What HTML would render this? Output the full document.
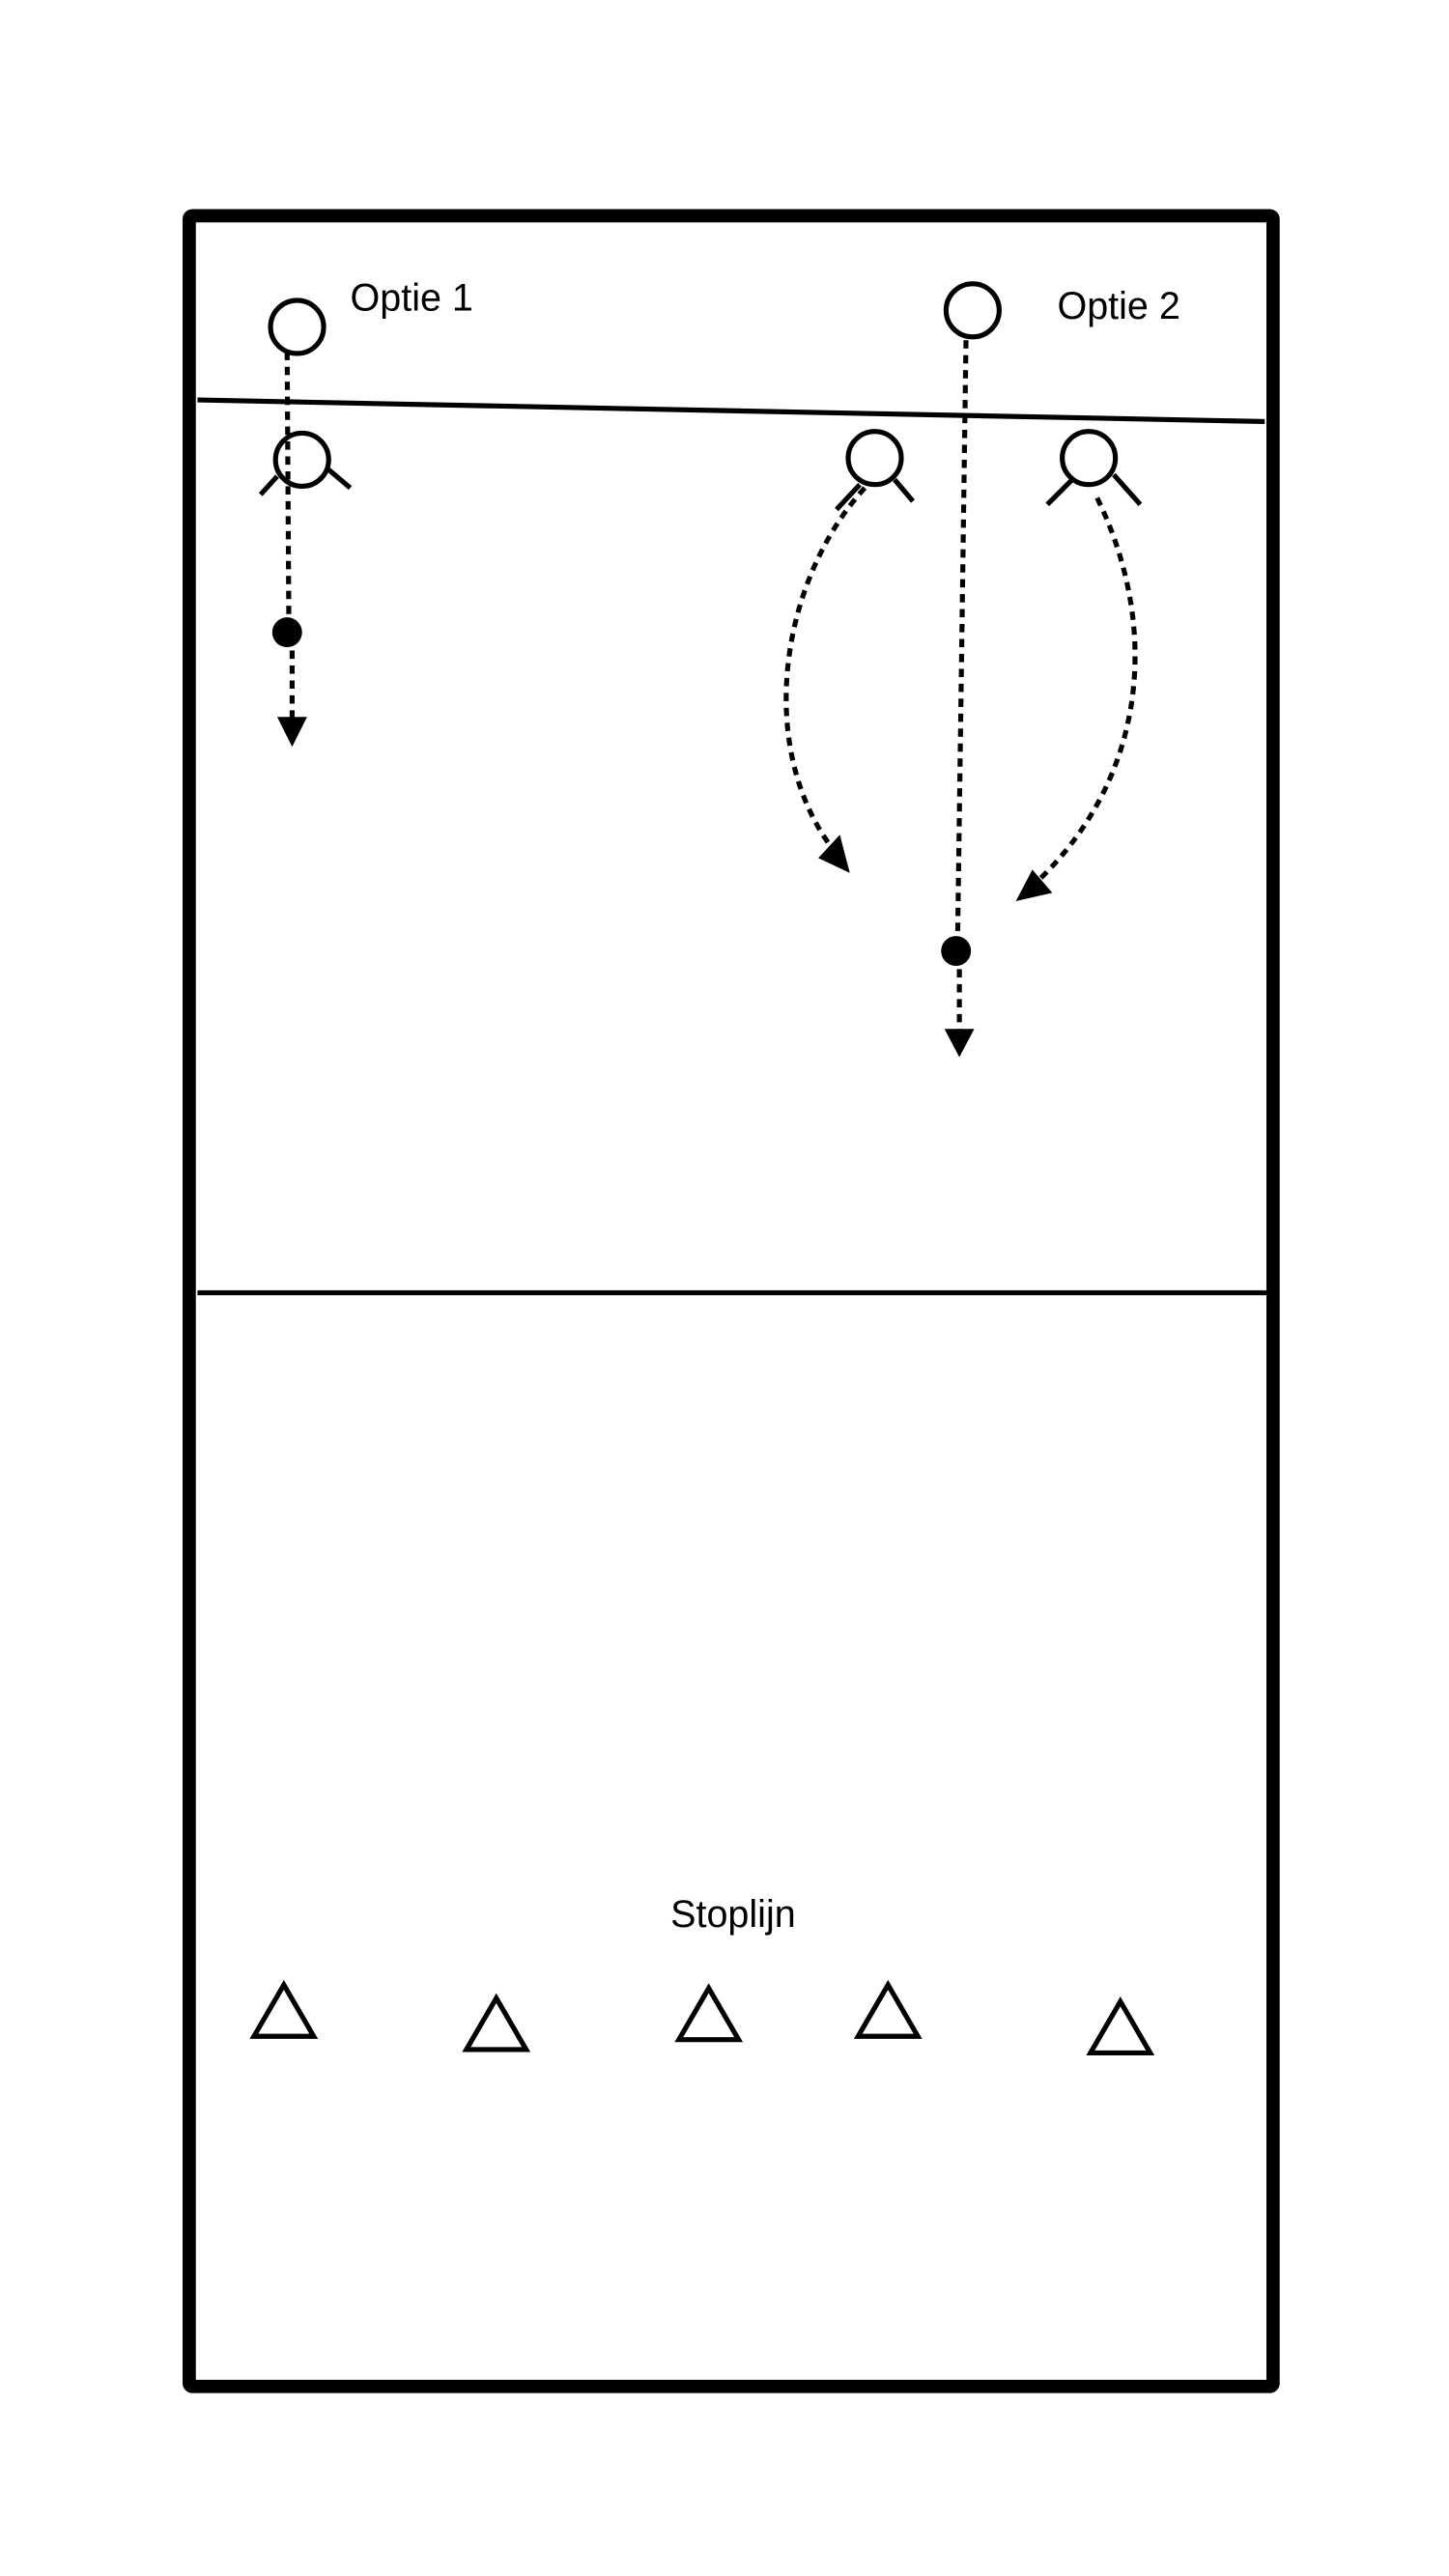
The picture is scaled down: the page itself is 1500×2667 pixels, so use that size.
<!DOCTYPE html>
<html><head><meta charset="utf-8"><style>html,body{margin:0;padding:0;background:#fff}svg{display:block}</style></head>
<body>
<svg width="1500" height="2667" viewBox="0 0 873 1552.2" xmlns="http://www.w3.org/2000/svg">
<rect x="0" y="0" width="873" height="1553" fill="#fff"/>
<rect x="114" y="130" width="653" height="1308" fill="none" stroke="#000" stroke-width="8" rx="2"/>
<line x1="119" y1="241" x2="762" y2="254" stroke="#000" stroke-width="3"/>
<line x1="119" y1="779" x2="763" y2="779" stroke="#000" stroke-width="3"/>
<g font-family="Liberation Sans, sans-serif" font-size="23" fill="#000">
<text x="211" y="187">Optie 1</text>
<text x="637" y="192">Optie 2</text>
<text x="404" y="1161">Stoplijn</text>
</g>
<g fill="none" stroke="#000" stroke-width="3">
<circle cx="179" cy="197" r="16" fill="#fff"/>
<circle cx="586" cy="187" r="16" fill="#fff"/>
<circle cx="182" cy="277" r="16"/>
<line x1="167" y1="287" x2="157" y2="298"/><line x1="198" y1="283" x2="211" y2="294"/>
<circle cx="527" cy="276" r="16"/>
<line x1="518" y1="292" x2="504" y2="307"/><line x1="539" y1="289" x2="550" y2="302"/>
<circle cx="656" cy="276" r="16"/>
<line x1="647" y1="288" x2="631" y2="304"/><line x1="671" y1="286" x2="687" y2="304"/>
</g>
<g fill="none" stroke="#000" stroke-width="3" stroke-dasharray="5,4">
<line x1="173" y1="212" x2="174" y2="372"/>
<line x1="176" y1="392" x2="176" y2="436"/>
<line x1="582" y1="205" x2="577" y2="563"/>
<line x1="578" y1="584" x2="578" y2="622"/>
<path d="M521 294 C470 350 455 450 502 512"/>
<path d="M661 300 C700 380 690 470 624 532"/>
</g>
<g fill="#000">
<circle cx="173" cy="381" r="9"/>
<circle cx="576" cy="573" r="9"/>
<polygon points="167,432 185,432 176,450"/>
<polygon points="569,620 587,620 578,637"/>
<polygon points="493,517 506,503 512,526"/>
<polygon points="622,524 634,538 612,543"/>
</g>
<g fill="none" stroke="#000" stroke-width="3">
<polygon points="171,1196 189,1227 153,1227"/>
<polygon points="299,1204 317,1235 281,1235"/>
<polygon points="427,1198 445,1229 409,1229"/>
<polygon points="535,1196 553,1227 517,1227"/>
<polygon points="675,1206 693,1237 657,1237"/>
</g>
</svg>
</body></html>
